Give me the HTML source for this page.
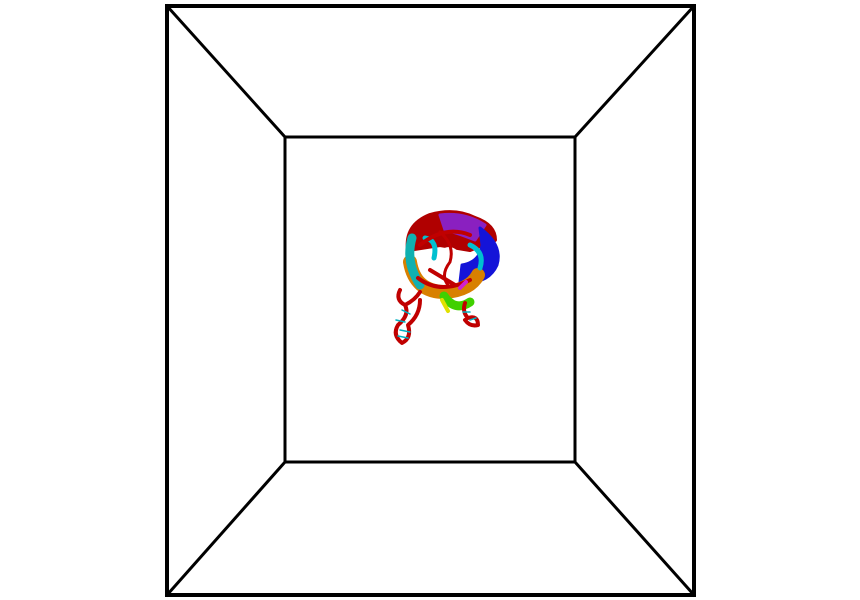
<!DOCTYPE html>
<html><head><meta charset="utf-8"><style>
html,body{margin:0;padding:0;background:#fff;width:860px;height:600px;overflow:hidden}
</style></head><body>
<svg width="860" height="600" viewBox="0 0 860 600">
<g stroke="#000" fill="none" stroke-linecap="square">
<rect x="167" y="6" width="527" height="589" stroke-width="4"/>
<rect x="285" y="137" width="290" height="325" stroke-width="3"/>
<line x1="167" y1="6" x2="285" y2="137" stroke-width="3"/>
<line x1="694" y1="6" x2="575" y2="137" stroke-width="3"/>
<line x1="167" y1="595" x2="285" y2="462" stroke-width="3"/>
<line x1="694" y1="595" x2="575" y2="462" stroke-width="3"/>
</g>
<g fill="none" stroke-linecap="round" stroke-linejoin="round">
<path d="M408 250 Q405 225 430 215 Q455 208 475 218 Q495 225 495 240 L470 250 L440 245 Z" fill="#b00000" stroke="#b00000" stroke-width="4"/>
<path d="M440 215 Q465 212 485 225 L475 240 Q455 232 445 230 Z" fill="#8a20c0" stroke="#8a20c0" stroke-width="3"/>
<path d="M480 228 Q503 245 497 265 Q488 285 460 282 L462 265 Q480 262 482 245 Z" fill="#1414d8" stroke="#1414d8" stroke-width="3"/>
<path d="M410 262 Q415 292 445 292 Q470 290 478 275" stroke="#d88000" stroke-width="14"/>
<path d="M412 238 Q405 262 420 285" stroke="#10b0b0" stroke-width="9"/>
<path d="M425 238 Q438 240 434 258" stroke="#00c0d0" stroke-width="5"/>
<path d="M470 245 Q485 252 480 268" stroke="#00c0d0" stroke-width="5"/>
<path d="M420 245 Q445 225 470 235 M418 278 Q440 295 470 280 M430 270 L455 285" stroke="#c00000" stroke-width="4"/>
<circle cx="449" cy="258" r="11" fill="#fff" stroke="none"/>
<path d="M440 232 Q455 245 450 262 Q440 275 448 285" stroke="#c00000" stroke-width="3"/>
<path d="M444 296 Q455 312 470 302" stroke="#40d000" stroke-width="9"/>
<path d="M442 300 L448 311" stroke="#e0e000" stroke-width="4"/>
<path d="M460 288 L466 282" stroke="#d020d0" stroke-width="4"/>
<path d="M420 292 Q415 300 405 305 Q395 300 400 290 M405 305 Q410 315 398 325 Q392 335 402 343 Q412 338 408 325 Q420 315 420 300" stroke="#c00000" stroke-width="4"/>
<path d="M396 320 L405 322 M400 330 L410 332 M398 336 L408 338 M402 310 L410 314" stroke="#00b0c0" stroke-width="1.5"/>
<path d="M465 303 Q462 312 468 318 Q478 315 478 325 Q470 327 465 320" stroke="#c00000" stroke-width="4"/>
<path d="M463 312 L470 312 M470 320 L476 318" stroke="#00b0c0" stroke-width="1.5"/>
</g>
</svg>
</body></html>
